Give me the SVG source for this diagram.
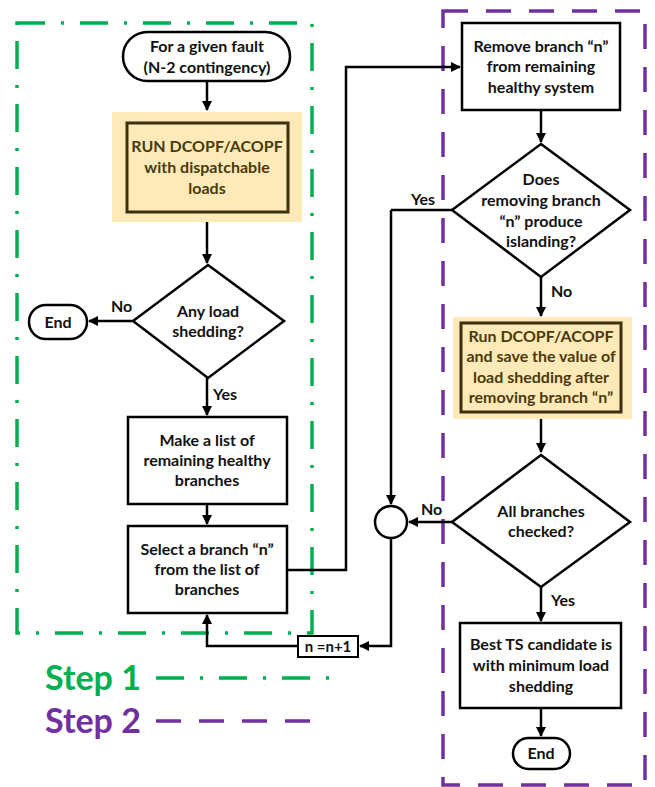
<svg xmlns="http://www.w3.org/2000/svg" width="655" height="787" viewBox="0 0 655 787">
<defs>
<marker id="ah" viewBox="0 0 10 10" refX="9" refY="5" markerWidth="10" markerHeight="10" markerUnits="userSpaceOnUse" orient="auto">
<path d="M0,0 L10,5 L0,10 z" fill="#000"/>
</marker>
<style>
.t{font-family:Lato,"Open Sans","Liberation Sans",sans-serif;font-weight:bold;font-size:16px;text-anchor:middle;fill:#111}
.ty{fill:#4a3a0e}
.box{fill:#fff;stroke:#000;stroke-width:2.5}
.term{fill:#fff;stroke:#000;stroke-width:2.5}
.hl{fill:#fdeab8}
.ibox{fill:#fdeab8;stroke:#3d300f;stroke-width:3}
.c{fill:none;stroke:#000;stroke-width:2.5}
.ca{fill:none;stroke:#000;stroke-width:2.5;marker-end:url(#ah)}
.g{fill:none;stroke:#00b050;stroke-width:3.5;stroke-dasharray:28 16 3 16}
.p{fill:none;stroke:#7030a0;stroke-width:3.5;stroke-dasharray:25 18}
.lbl{font-family:Lato,"Open Sans","Liberation Sans",sans-serif;font-weight:bold;font-size:16px;fill:#111}
.step{font-family:Lato,"Open Sans","Liberation Sans",sans-serif;font-weight:bold;font-size:34px}
</style>
</defs>

<g id="step1-frame"><rect class="g" x="17" y="23" width="295" height="610"/></g>
<g id="step2-frame"><rect class="p" x="443" y="11" width="202" height="774"/></g>

<g id="connectors">
<path class="ca" d="M207,81 V110"/>
<path class="ca" d="M207,222 V263"/>
<path class="ca" d="M133,321 H89"/>
<path class="ca" d="M207,378 V415"/>
<path class="ca" d="M207,504 V524"/>
<path class="ca" d="M287,570 H346 V67 H460"/>
<path class="ca" d="M541,110 V142"/>
<path class="c" d="M452,210 H391"/>
<path class="ca" d="M391,210 V504"/>
<path class="ca" d="M541,277 V316"/>
<path class="ca" d="M541,419 V452"/>
<path class="ca" d="M452,522 H409"/>
<path class="ca" d="M541,587 V621"/>
<path class="ca" d="M541,708 V736"/>
<path class="ca" d="M391,538 V646 H360"/>
<path class="ca" d="M298,646 H207 V615"/>
</g>

<g id="start">
<rect class="term" x="123" y="32" width="167" height="49" rx="24.5"/>
<text class="t" x="207" y="52">For a given fault</text>
<text class="t" x="207" y="73">(N-2 contingency)</text>
</g>

<g id="run-opf">
<rect class="hl" x="112" y="112" width="190" height="110"/>
<rect class="ibox" x="127" y="123" width="161" height="89"/>
<text class="t ty" x="207" y="152">RUN DCOPF/ACOPF</text>
<text class="t ty" x="207" y="173">with dispatchable</text>
<text class="t ty" x="207" y="194">loads</text>
</g>

<g id="any-load">
<polygon class="box" points="208,265 284,321 208,378 133,321"/>
<text class="t" x="208" y="317">Any load</text>
<text class="t" x="208" y="337">shedding?</text>
</g>
<text class="lbl" x="111" y="312">No</text>
<text class="lbl" x="213" y="400">Yes</text>

<g id="end1">
<rect class="term" x="29" y="305" width="58" height="34" rx="17"/>
<text class="t" x="58" y="328">End</text>
</g>

<g id="make-list">
<rect class="box" x="128" y="417" width="159" height="87"/>
<text class="t" x="207" y="446">Make a list of</text>
<text class="t" x="207" y="466">remaining healthy</text>
<text class="t" x="207" y="486">branches</text>
</g>

<g id="select">
<rect class="box" x="128" y="526" width="159" height="87"/>
<text class="t" x="207" y="555">Select a branch “n”</text>
<text class="t" x="207" y="575">from the list of</text>
<text class="t" x="207" y="595">branches</text>
</g>

<g id="increment">
<rect class="box" x="298" y="636" width="60" height="21" style="stroke-width:2"/>
<text class="t" x="328" y="652" style="font-size:15px">n =n+1</text>
</g>

<g id="remove">
<rect class="box" x="462" y="23" width="158" height="87"/>
<text class="t" x="541" y="52">Remove branch “n”</text>
<text class="t" x="541" y="72">from remaining</text>
<text class="t" x="541" y="93">healthy system</text>
</g>

<g id="islanding">
<polygon class="box" points="541,144 630,210 541,277 452,210"/>
<text class="t" x="541" y="185">Does</text>
<text class="t" x="541" y="206">removing branch</text>
<text class="t" x="541" y="227">“n” produce</text>
<text class="t" x="541" y="247">islanding?</text>
</g>
<text class="lbl" x="411" y="205">Yes</text>
<text class="lbl" x="551" y="297">No</text>

<g id="run-save">
<rect class="hl" x="453" y="317" width="179" height="102"/>
<rect class="ibox" x="461" y="323" width="160" height="89"/>
<text class="t ty" x="541" y="342">Run DCOPF/ACOPF</text>
<text class="t ty" x="541" y="362">and save the value of</text>
<text class="t ty" x="541" y="383">load shedding after</text>
<text class="t ty" x="541" y="403">removing branch “n”</text>
</g>

<g id="all-checked">
<polygon class="box" points="541,455 630,522 541,587 452,522"/>
<text class="t" x="541" y="517">All branches</text>
<text class="t" x="541" y="537">checked?</text>
</g>
<text class="lbl" x="421" y="515">No</text>
<text class="lbl" x="551" y="606">Yes</text>

<g id="junction">
<circle cx="391" cy="522" r="16" fill="#fff" stroke="#000" stroke-width="2.5"/>
</g>

<g id="best">
<rect class="box" x="460" y="623" width="161" height="85"/>
<text class="t" x="541" y="650">Best TS candidate is</text>
<text class="t" x="541" y="671">with minimum load</text>
<text class="t" x="541" y="692">shedding</text>
</g>

<g id="end2">
<rect class="term" x="513" y="738" width="57" height="31" rx="15.5"/>
<text class="t" x="541" y="759">End</text>
</g>

<g id="legend">
<text class="step" x="45" y="690" fill="#00b050">Step 1</text>
<path class="g" d="M156,678 H330"/>
<text class="step" x="45" y="733" fill="#7030a0">Step 2</text>
<path class="p" d="M156,721 H320"/>
</g>
</svg>
